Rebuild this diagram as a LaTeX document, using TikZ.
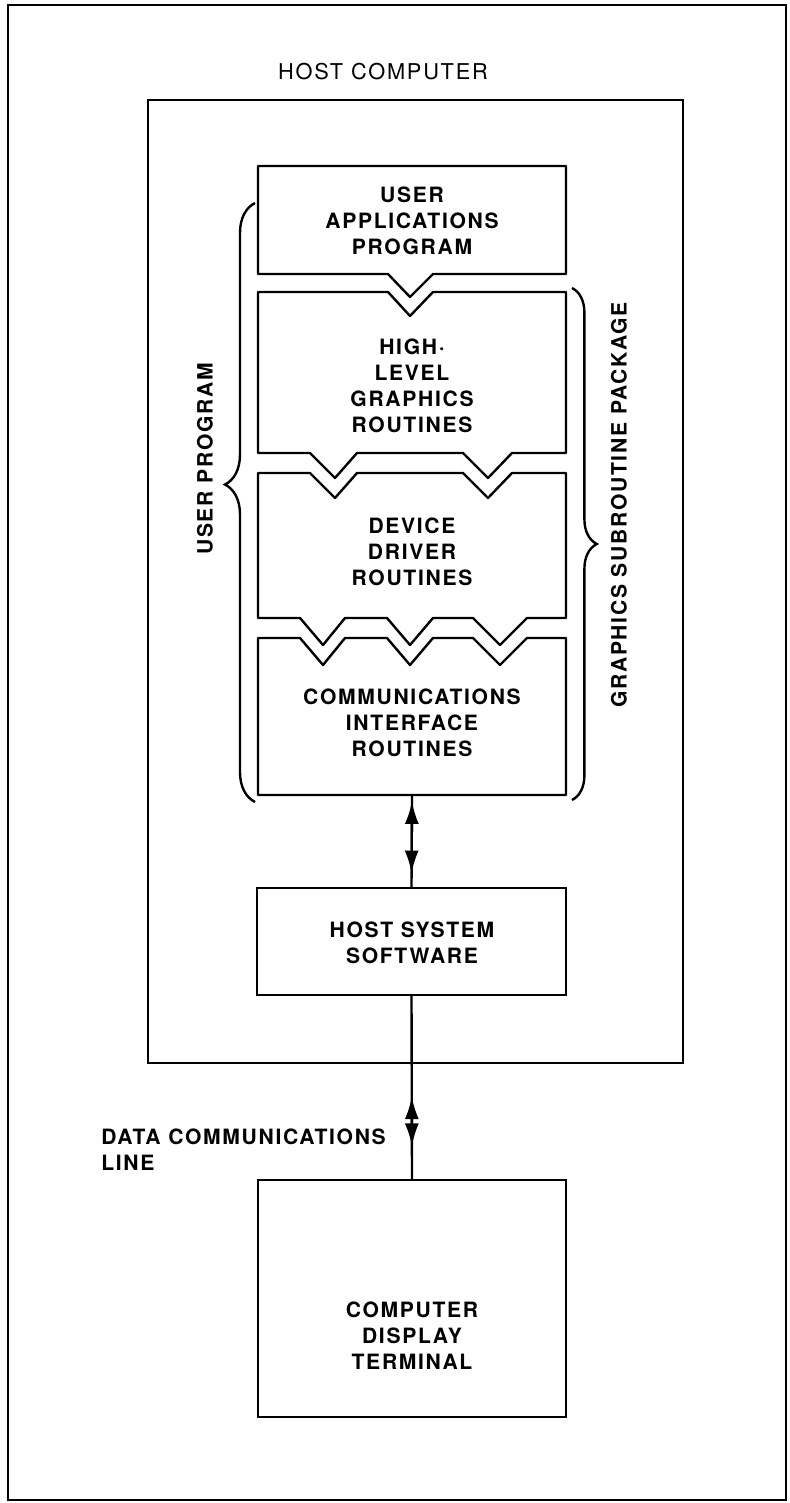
\documentclass[tikz,border=0pt]{standalone}
\usepackage{fontspec}
\setmainfont{TeX Gyre Heros}
\newfontfamily\lblfont[LetterSpace=8]{TeX Gyre Heros}
\usetikzlibrary{calc,arrows.meta,decorations.pathreplacing}

\tikzset{
  frame/.style={line width=1.8pt},
  boxline/.style={line width=1.7pt, line join=round},
  box/.style={draw, line width=1.7pt, inner sep=0pt},
  lbl/.style={font=\lblfont\bfseries\fontsize{15}{18.5}\selectfont, align=center, inner sep=0pt},
  hostlbl/.style={font=\lblfont\fontsize{15.5}{18}\selectfont, inner sep=0pt},
  sidelbl/.style={lbl, rotate=90},
  brace/.style={decorate, decoration={brace, amplitude=#1}, line width=1.7pt},
  tip/.style={line width=1.7pt, -{Latex[length=16pt,width=10pt]}},
}

\begin{document}
\begin{tikzpicture}[x=0.025cm, y=-0.025cm]
\useasboundingbox (0,0) rectangle (789,1503);

% outer frame and host computer
\draw[frame] (8,5) rectangle (786,1500);
\node[hostlbl] (hosttitle) at (383,72) {HOST COMPUTER};
\draw[frame] (148,100) rectangle (683,1063);

% user applications program
\draw[boxline] (258,166) -- (566,166) -- (566,274) -- (433,274) -- (410,297)
  -- (388,274) -- (258,274) -- cycle;
\node[lbl] (appl) at (412,221) {USER\\APPLICATIONS\\PROGRAM};

% high-level graphics routines
\draw[boxline] (258,292) -- (388,292) -- (410,316) -- (433,292) -- (566,292)
  -- (566,453) -- (512,453) -- (488,478) -- (463,453)
  -- (357,453) -- (335,478) -- (310,453) -- (258,453) -- cycle;
\node[lbl] (high) at (412,386) {HIGH·\\LEVEL\\GRAPHICS\\ROUTINES};

% device driver routines
\draw[boxline] (258,473) -- (310,473) -- (335,498) -- (357,473) -- (463,473)
  -- (488,498) -- (512,473) -- (566,473) -- (566,618)
  -- (527,618) -- (500,645) -- (473,618) -- (433,618) -- (410,645)
  -- (387,618) -- (345,618) -- (323,645) -- (300,618) -- (258,618) -- cycle;
\node[lbl] (drv) at (412,552) {DEVICE\\DRIVER\\ROUTINES};

% communications interface routines
\draw[boxline] (258,638) -- (300,638) -- (323,665) -- (345,638) -- (387,638)
  -- (410,665) -- (433,638) -- (473,638) -- (500,665) -- (527,638)
  -- (566,638) -- (566,795) -- (258,795) -- cycle;
\node[lbl] (comm) at (412,723) {COMMUNICATIONS\\INTERFACE\\ROUTINES};
\coordinate (commbot) at (412,795);

% braces
\draw[brace=0.75cm, decoration={aspect=0.53}] (255,802) -- (255,203);
\node[sidelbl] (userprog) at (205,459) {USER PROGRAM};
\draw[brace=0.62cm] (572,288) -- (572,800);
\node[sidelbl] (gsp) at (619,505) {GRAPHICS SUBROUTINE PACKAGE};

% host system software
\node[box, minimum width=7.725cm, minimum height=2.675cm] (hss) at (411.5,941.5) {};
\node[lbl] (hsstxt) at (412,943) {HOST SYSTEM\\SOFTWARE};
\draw[boxline] (commbot) -- (hss.north);
\draw[tip] ($(commbot)!0.5!(hss.north)$) -- ($(commbot)!0.07!(hss.north)$);
\draw[tip] ($(commbot)!0.5!(hss.north)$) -- ($(commbot)!0.85!(hss.north)$);

% terminal
\node[box, minimum width=7.7cm, minimum height=5.925cm] (term) at (412,1298.5) {};
\node[lbl] (termtxt) at (412,1336) {COMPUTER\\DISPLAY\\TERMINAL};
\draw[boxline] (hss.south) -- (term.north);
\draw[tip] ($(hss.south)!0.69!(term.north)$) -- ($(hss.south)!0.55!(term.north)$);
\draw[tip] ($(hss.south)!0.69!(term.north)$) -- ($(hss.south)!0.82!(term.north)$);
\node[lbl, align=left, anchor=west] (dcl) at (101,1150) {DATA COMMUNICATIONS\\LINE};
\end{tikzpicture}
\end{document}
